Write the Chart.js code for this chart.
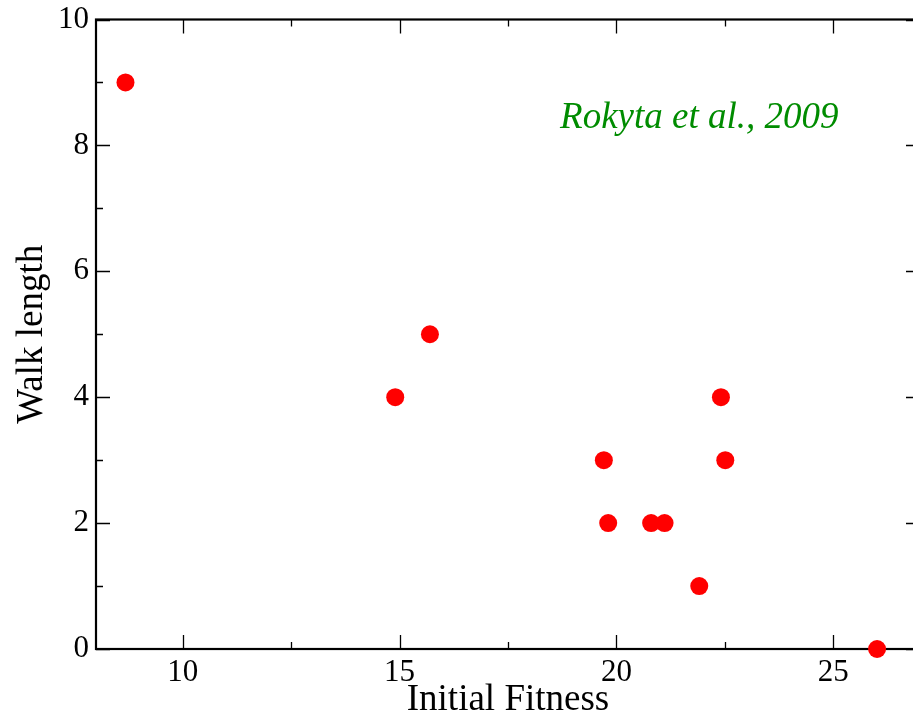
<!DOCTYPE html>
<html>
<head>
<meta charset="utf-8">
<script src="https://cdn.jsdelivr.net/npm/chart.js@4/dist/chart.umd.min.js"></script>
<style>
  html, body { margin: 0; padding: 0; background: #fff; overflow: hidden; }
  #wrap { width: 940px; height: 717px; position: relative; }
</style>
</head>
<body>
<div id="wrap"><canvas id="c"></canvas></div>
<script>
// ---- data ----
const initialFitness = [8.68, 14.90, 15.70, 19.71, 19.81, 20.80, 21.11, 21.91, 22.41, 22.51, 26.01];
const walkLength     = [9,    4,     5,     3,     2,     2,     2,     1,     4,     3,     0];
const xTickValues = [10, 12.5, 15, 17.5, 20, 22.5, 25];
const xTickLabels = [10, 15, 20, 25];
const yTickValues = [0, 1, 2, 3, 4, 5, 6, 7, 8, 9, 10];
const yTickLabels = [0, 2, 4, 6, 8, 10];
const xTitle = 'Initial Fitness';
const yTitle = 'Walk length';
const noteText = 'Rokyta et al., 2009';
const notePos = { x: 18.7, y: 8.28 };

const points = initialFitness.map((x, i) => ({ x: x, y: walkLength[i] }));
const serif = '"Liberation Serif", "Times New Roman", serif';

const framePlugin = {
  id: 'frame',
  beforeDatasetsDraw(chart) {
    const ctx = chart.ctx, a = chart.chartArea;
    const xs = chart.scales.x, ys = chart.scales.y;
    ctx.save();
    ctx.strokeStyle = '#000';
    ctx.lineWidth = 1.3;
    ctx.beginPath();
    xTickValues.forEach(v => {
      const px = Math.round(xs.getPixelForValue(v)) + 0.5;
      const len = xTickLabels.includes(v) ? 14 : 7;
      ctx.moveTo(px, a.bottom); ctx.lineTo(px, a.bottom - len);
      ctx.moveTo(px, a.top); ctx.lineTo(px, a.top + len);
    });
    yTickValues.forEach(v => {
      const py = Math.round(ys.getPixelForValue(v)) + 0.5;
      const len = yTickLabels.includes(v) ? 14 : 7;
      ctx.moveTo(a.left, py); ctx.lineTo(a.left + len, py);
      ctx.moveTo(a.right, py); ctx.lineTo(a.right - len, py);
    });
    ctx.stroke();
    ctx.lineWidth = 2.2;
    ctx.strokeRect(a.left, a.top, a.right - a.left, a.bottom - a.top);
    ctx.fillStyle = '#008c00';
    ctx.font = 'italic 37px ' + serif;
    ctx.textAlign = 'left';
    ctx.textBaseline = 'alphabetic';
    ctx.fillText(noteText, xs.getPixelForValue(notePos.x), ys.getPixelForValue(notePos.y));
    ctx.restore();
  }
};

new Chart(document.getElementById('c'), {
  type: 'scatter',
  data: {
    datasets: [{
      data: points,
      backgroundColor: '#ff0000',
      borderColor: '#ff0000',
      borderWidth: 0,
      pointRadius: 9,
      pointHoverRadius: 9,
      clip: false
    }]
  },
  options: {
    responsive: true,
    maintainAspectRatio: false,
    animation: false,
    events: [],
    layout: { padding: { top: 19.5, right: 20, left: 0, bottom: 0 } },
    plugins: { legend: { display: false }, tooltip: { enabled: false } },
    scales: {
      x: {
        type: 'linear',
        min: 8, max: 27,
        afterBuildTicks(s) { s.ticks = xTickValues.map(v => ({ value: v })); },
        afterFit(s) { s.height = 68; s.paddingLeft = 0; s.paddingRight = 0; },
        grid: { display: false, drawTicks: false },
        border: { display: false },
        ticks: {
          autoSkip: false, maxRotation: 0,
          padding: 5,
          color: '#000',
          font: { family: serif, size: 31 },
          callback: v => xTickLabels.includes(v) ? String(v) : ''
        },
        title: {
          display: true, text: xTitle, color: '#000',
          font: { family: serif, size: 37 },
          padding: { top: 0, bottom: -5 }
        }
      },
      y: {
        type: 'linear',
        min: 0, max: 10,
        afterBuildTicks(s) { s.ticks = yTickValues.map(v => ({ value: v })); },
        afterFit(s) { s.width = 96; s.paddingTop = 0; s.paddingBottom = 0; },
        grid: { display: false, drawTicks: false },
        border: { display: false },
        ticks: {
          autoSkip: false,
          padding: 7,
          color: '#000',
          font: { family: serif, size: 31 },
          callback: v => yTickLabels.includes(v) ? String(v) : ''
        },
        title: {
          display: true, text: yTitle, color: '#000',
          font: { family: serif, size: 37 },
          padding: { top: 10, bottom: 0 }
        }
      }
    }
  },
  plugins: [framePlugin]
});
</script>
</body>
</html>
